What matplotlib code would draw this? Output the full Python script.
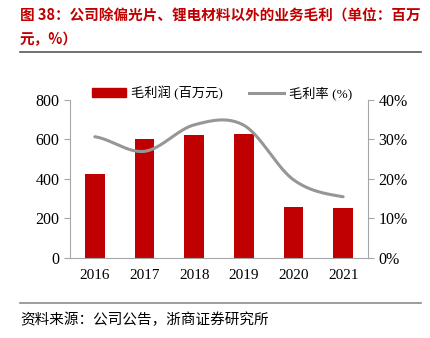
import numpy as np
import matplotlib.pyplot as plt
from matplotlib.lines import Line2D

plt.rcParams['font.family'] = ['Liberation Serif', 'Noto Sans CJK SC']

# data
years = ['2016', '2017', '2018', '2019', '2020', '2021']
gross_profit = [423, 600, 623, 628, 260, 252]          # 百万元
gross_margin = [30.7, 27.0, 33.7, 33.6, 19.8, 15.5]    # %

title = '图 38：公司除偏光片、锂电材料以外的业务毛利（单位：百万\n元，%）'
source = '资料来源：公司公告，浙商证券研究所'
red = '#C00000'
gray = '#969696'


def smooth(x, y, n=30):
    # catmull-rom curve through the points (like excel smoothed line)
    x = np.asarray(x, float)
    y = np.asarray(y, float)
    xs, ys = [], []
    for i in range(len(x) - 1):
        y0 = y[i - 1] if i > 0 else y[i]
        y3 = y[i + 2] if i + 2 < len(y) else y[i + 1]
        m1 = (y[i + 1] - y0) / 2
        m2 = (y3 - y[i]) / 2
        t = np.linspace(0, 1, n)
        h00 = 2 * t**3 - 3 * t**2 + 1
        h10 = t**3 - 2 * t**2 + t
        h01 = -2 * t**3 + 3 * t**2
        h11 = t**3 - t**2
        xs.extend(x[i] + t * (x[i + 1] - x[i]))
        ys.extend(h00 * y[i] + h10 * m1 + h01 * y[i + 1] + h11 * m2)
    return np.array(xs), np.array(ys)


fig = plt.figure(figsize=(4.31, 3.38), dpi=100)
ax = fig.add_axes([0.1624, 0.2367, 0.6914, 0.4675])
x = np.arange(len(years))
ax.bar(x, gross_profit, width=0.4, color=red, zorder=2)
ax.set_ylim(0, 800)
ax.set_yticks([0, 200, 400, 600, 800])
ax.set_xlim(-0.5, len(years) - 0.5)
ax.set_xticks(x)
ax.set_xticklabels(years)

ax2 = ax.twinx()
sx, sy = smooth(x, gross_margin)
ax2.plot(sx, sy, color=gray, lw=2.2, solid_capstyle='round', zorder=3)
ax2.set_ylim(0, 40)
ax2.set_yticks([0, 10, 20, 30, 40])
ax2.set_yticklabels(['%d%%' % v for v in [0, 10, 20, 30, 40]])

for a in (ax, ax2):
    a.spines['top'].set_visible(False)
    for s in ['left', 'right', 'bottom']:
        a.spines[s].set_color('#a6a6a6')
    a.tick_params(labelsize=11.5, colors='#a6a6a6', labelcolor='black', length=4)
ax2.spines['left'].set_visible(False)
ax2.spines['bottom'].set_visible(False)
ax.spines['right'].set_visible(False)
ax.tick_params(axis='x', length=0, pad=8, labelsize=11)

handles = [plt.Rectangle((0, 0), 1, 1, color=red),
           Line2D([0], [0], color=gray, lw=2.2)]
fig.legend(handles, ['毛利润 (百万元)', '毛利率 (%)'], loc='center',
           bbox_to_anchor=(0.515, 0.725), ncol=2, frameon=False,
           fontsize=9.5, handlelength=2.6, handleheight=0.7,
           columnspacing=2.0, handletextpad=0.4)

fig.text(0.046, 0.978, title, fontsize=10.5, fontweight='bold', color=red,
         family=['Noto Sans CJK SC'], va='top', linespacing=1.55)
fig.add_artist(Line2D([0.046, 0.977], [0.846, 0.846], color='#595959', lw=1.2))
fig.add_artist(Line2D([0.046, 0.977], [0.104, 0.104], color='#8c8c8c', lw=1.2))
fig.text(0.046, 0.053, source, fontsize=10.5, family=['Noto Sans CJK SC'],
         va='center')

fig.savefig('out.png', dpi=100)
